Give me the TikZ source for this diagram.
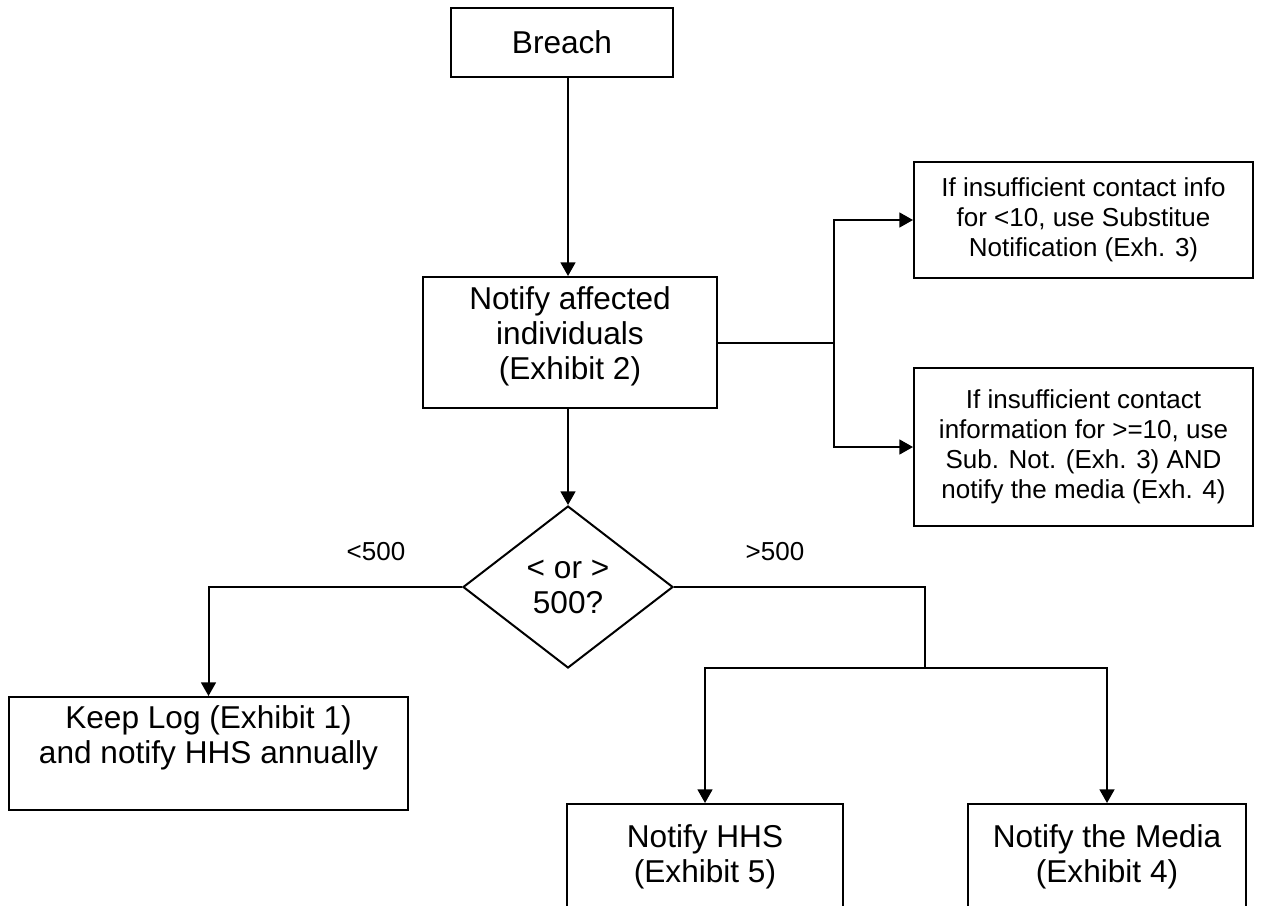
\documentclass[tikz,border=0pt]{standalone}
\usepackage{fontspec}
\setmainfont{Liberation Sans}
\usetikzlibrary{shapes.geometric,arrows.meta}
\begin{document}
\begin{tikzpicture}[x=0.5pt,y=-0.5pt,
  bigfont/.style={font=\fontsize{15.8}{17.5}\selectfont},
  smallfont/.style={font=\fontsize{13}{15}\selectfont},
  box/.style={draw, line width=1pt, inner sep=0pt, align=center, bigfont},
  smallbox/.style={draw, line width=1pt, inner sep=0pt, align=center, smallfont},
  toplabel/.style={anchor=north, align=center, inner sep=0pt, bigfont},
  lbl/.style={inner sep=0pt, smallfont},
  conn/.style={line width=1pt},
  arr/.style={line width=1pt, -{Triangle[length=6.8pt,width=7.4pt]}}]
\useasboundingbox (0,0) rectangle (1261,905);
\clip (0,0) rectangle (1261,905);

% nodes
\node[box, minimum width=111pt, minimum height=34.5pt] (breach) at (562,42.5) {Breach};
\node[box, minimum width=147pt, minimum height=65.5pt,
  label={[toplabel, yshift=-5pt]north:{Notify affected\\individuals\\(Exhibit 2)}}] (notify) at (570,342.5) {};
\node[draw, diamond, line width=1pt, inner sep=0pt, minimum width=105pt, minimum height=81pt, align=center, bigfont] (dec) at (568,587) {< or >\\500?};
\node[smallbox, minimum width=169.5pt, minimum height=58pt] (tr) at (1083.5,220) {If insufficient contact info\\for <10, use Substitue\\Notification (Exh. 3)};
\node[smallbox, minimum width=169.5pt, minimum height=79pt] (br) at (1083.5,447) {If insufficient contact\\information for >=10, use\\Sub. Not. (Exh. 3) AND\\notify the media (Exh. 4)};
\node[box, minimum width=199.5pt, minimum height=56.5pt,
  label={[toplabel, yshift=-4.5pt]north:{Keep Log (Exhibit 1)\\and notify HHS annually}}] (log) at (208.5,753.5) {};
\node[box, minimum width=138pt, minimum height=60pt, anchor=north,
  label={[toplabel, yshift=-10.5pt]north:{Notify HHS\\(Exhibit 5)}}] (hhs) at (705,803) {};
\node[box, minimum width=139pt, minimum height=60pt, anchor=north,
  label={[toplabel, yshift=-10.5pt]north:{Notify the Media\\(Exhibit 4)}}] (media) at (1107,803) {};

\node[lbl] (lt) at (376,552) {<500};
\node[lbl] (gt) at (775,552) {>500};

% connectors
\draw[arr] ([xshift=3pt]breach.south) -- ([xshift=3pt]breach.south |- notify.north);
\draw[arr] (notify.south -| dec.north) -- (dec.north);

\coordinate (s1) at (834,342.5);
\draw[conn] (notify.east) -- (s1);
\draw[arr] (s1) |- (tr.west);
\draw[arr] (s1) |- (br.west);

\draw[arr] (dec.west) -| (log.north);

\coordinate (s2) at (925,668);
\draw[conn] (dec.east) -| (s2);
\draw[arr] (s2) -| (hhs.north);
\draw[arr] (s2) -| (media.north);
\end{tikzpicture}
\end{document}
